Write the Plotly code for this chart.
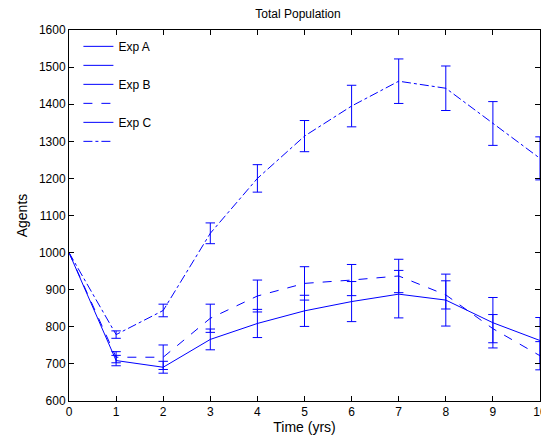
import plotly.graph_objects as go

years = [0, 1, 2, 3, 4, 5, 6, 7, 8, 9, 10]
exp_a = [1000, 709, 691, 766, 809, 843, 868, 888, 872, 811, 763]
exp_a_err = [0, 14, 16, 28, 38, 42, 54, 64, 70, 68, 62]
exp_b = [1000, 718, 718, 823, 883, 917, 926, 937, 886, 795, 722]
exp_b_err = [0, 15, 33, 38, 43, 45, 42, 45, 38, 38, 38]
exp_c = [1000, 779, 844, 1052, 1200, 1314, 1395, 1462, 1443, 1348, 1254]
exp_c_err = [0, 10, 17, 28, 37, 42, 56, 60, 60, 59, 58]
names = ["Exp A", "Exp B", "Exp C"]
x_ticks = list(range(0, 11))
y_ticks = list(range(600, 1601, 100))

BLUE = "#0000ff"
CAP = 0.1  # half cap width in x units


def errorbar_segments(x, y, e):
    xs, ys = [], []
    for xi, yi, ei in zip(x, y, e):
        if ei == 0:
            continue
        lo, hi = yi - ei, yi + ei
        xs += [xi, xi, None, xi - CAP, xi + CAP, None, xi - CAP, xi + CAP, None]
        ys += [lo, hi, None, lo, lo, None, hi, hi, None]
    return xs, ys


fig = go.Figure()
series = [(exp_a, exp_a_err, "solid"), (exp_b, exp_b_err, "dash"), (exp_c, exp_c_err, "dashdot")]
for name, (vals, errs, dash) in zip(names, series):
    ex, ey = errorbar_segments(years, vals, errs)
    fig.add_trace(go.Scatter(x=ex, y=ey, mode="lines", name=name,
                             line=dict(color=BLUE, width=1), connectgaps=False))
    fig.add_trace(go.Scatter(x=years, y=vals, mode="lines", name=" ",
                             line=dict(color=BLUE, width=1, dash=dash)))

axis_common = dict(showline=True, linecolor="black", linewidth=1, mirror="ticks",
                   ticks="inside", ticklen=5, tickcolor="black", showgrid=False,
                   zeroline=False, tickfont=dict(size=12, color="black"))

# page body has an 8px margin, so the figure is sized/offset to compensate
W, H = 541, 428
fig.update_layout(
    width=W, height=H,
    margin=dict(l=61, r=9, t=22, b=35, autoexpand=False),
    paper_bgcolor="white", plot_bgcolor="white",
    font=dict(family="Liberation Sans, Arial, sans-serif", size=12, color="black"),
    title=dict(text="Total Population", x=290 / W, xanchor="center",
               y=1 - 6 / H, yanchor="middle", font=dict(size=12)),
    xaxis=dict(range=[0, 10], tickvals=x_ticks, title=dict(text="Time (yrs)", standoff=3),
               **axis_common),
    yaxis=dict(range=[600, 1600], tickvals=y_ticks, title=dict(text="Agents", standoff=7),
               **axis_common),
    legend=dict(x=0.02, y=0.995, xanchor="left", yanchor="top", bgcolor="rgba(0,0,0,0)",
                borderwidth=0, font=dict(size=12), tracegroupgap=0),
    showlegend=True,
)

fig.write_html("out.html")
